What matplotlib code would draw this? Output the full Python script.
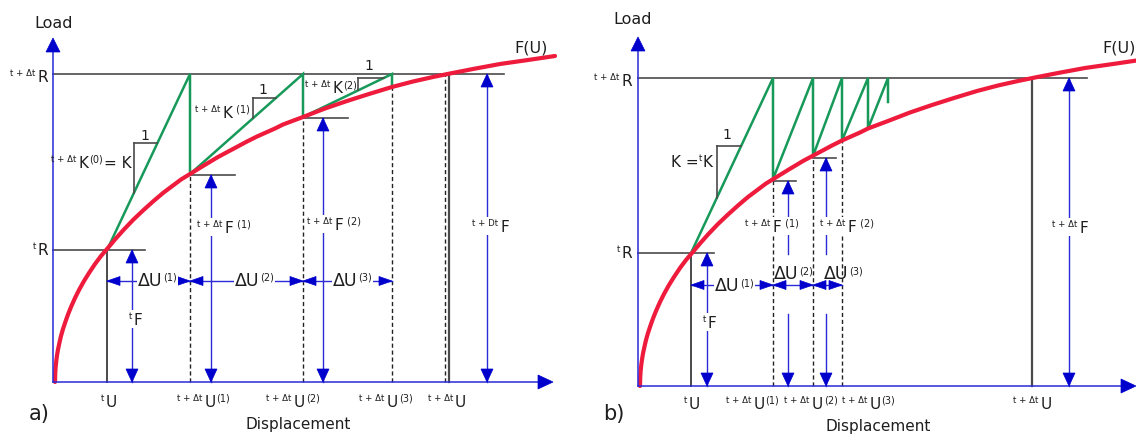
import matplotlib
matplotlib.use("Agg")
import matplotlib.pyplot as plt
from matplotlib.patches import Polygon, Rectangle

plt.rcParams['font.family'] = ['DejaVu Sans']

# ------------------------------------------------------------------ data
# load-displacement curve F(U) (diagram units)
curve_u = [2, 2.2, 2.6, 3.2, 4, 5, 6.5, 8, 10, 12.5, 15, 18, 22, 26, 31, 36, 42,
           48, 54, 62, 70, 80, 90, 100, 110, 120, 128, 137, 150, 165, 180, 194,
           204, 222, 230, 250, 272, 294, 316, 339, 360, 380, 397, 420, 447,
           475, 502]
curve_f = [0, 8, 14.5, 20.5, 26.5, 32.5, 39.5, 46, 53, 60.5, 67.5, 75, 84, 92,
           101, 109, 118, 126, 133, 142.5, 151.5, 162, 171.5, 180.5, 189, 196.5,
           202.5, 208, 216, 225, 233, 240.5, 245.5, 253.5, 257.5, 265, 273.5,
           281, 288, 295, 300.5, 305, 308.5, 313, 318, 322, 326]

# panel a) full Newton-Raphson iterations
a_tU, a_tR = 54, 132
a_R = 308
a_iter_u = [137, 250, 339]
a_iter_f = [208, 265, 295]
a_conv_u = 392
a_final_u = 396

# panel b) modified Newton-Raphson iterations
b_tU, b_tR = 53, 133
b_R = 308
b_iter_u = [135, 175, 204, 230, 250]
b_iter_f = [207, 230, 245.5, 257.5, 284]
b_final_u = 394

# text
iter_tags = ['(1)', '(2)', '(3)']
xlabel = 'Displacement'
ylabel = 'Load'
curve_name = 'F(U)'

# ------------------------------------------------------------------ style
RED = '#ee1b3c'
GREEN = '#17995a'
BLUE = '#2a2ad8'
HEAD = '#0000cc'
GREY = '#4a4a4a'
TXT = '#1e1e1e'
MAIN, PRE, POST = 11, 6.2, 7

W, H = 1136, 435
fig = plt.figure(figsize=(W / 100, H / 100), dpi=100)
renderer = fig.canvas.get_renderer()


def make_panel(ox, oy, name):
    ax = fig.add_axes([0, 0, 1, 1], label=name)
    ax.set_xlim(-ox, W - ox)
    ax.set_ylim(-(H - oy), oy)
    ax.set_axis_off()
    ax.patch.set_alpha(0)
    return ax


def head(ax, tip, d, L=13, hw=6, z=6):
    x, y = tip
    dx, dy = d
    bx, by = x - dx * L, y - dy * L
    px, py = -dy, dx
    pts = [(x, y), (bx + px * hw, by + py * hw), (bx - px * hw, by - py * hw)]
    ax.add_patch(Polygon(pts, closed=True, fc=HEAD, ec=HEAD, lw=0.5, zorder=z))


def draw_axes(ax, ytip, xtip):
    ax.plot([0, 0], [0, ytip - 10], color=BLUE, lw=1.1, zorder=5)
    head(ax, (0, ytip), (0, 1), L=14, hw=7)
    ax.plot([0, xtip - 10], [0, 0], color=BLUE, lw=1.1, zorder=5)
    head(ax, (xtip, 0), (1, 0), L=15, hw=7)


def varrow(ax, u, top, gaps=()):
    pieces = [[0, top]]
    for lo, hi in gaps:
        new = []
        for a, b in pieces:
            if hi <= a or lo >= b:
                new.append([a, b])
            else:
                if lo > a:
                    new.append([a, lo])
                if hi < b:
                    new.append([hi, b])
        pieces = new
    for a, b in pieces:
        ax.plot([u, u], [a, b], color=BLUE, lw=1.0, zorder=5)
    head(ax, (u, top), (0, 1), L=13, hw=6)
    head(ax, (u, 0), (0, -1), L=13, hw=6)


def harrow(ax, u0, u1, f):
    ax.plot([u0, u1], [f, f], color=BLUE, lw=1.0, zorder=5)
    head(ax, (u0, f), (-1, 0), L=13, hw=4.5)
    head(ax, (u1, f), (1, 0), L=13, hw=4.5)


def rich(ax, x, y, segs, ha='left', bg=False, z=8):
    objs = [ax.text(0, 0, s, fontsize=sz, ha='left', va='baseline', color=TXT,
                    zorder=z) for s, sz, r, g in segs]
    ws = [t.get_window_extent(renderer).width for t in objs]
    total = sum(ws) + sum(g for s, sz, r, g in segs)
    x0 = {'left': x, 'center': x - total / 2, 'right': x - total}[ha]
    cx = x0
    for t, w, (s, sz, r, g) in zip(objs, ws, segs):
        cx += g
        t.set_position((cx, y + r))
        cx += w
    if bg:
        bbs = [t.get_window_extent(renderer) for t in objs]
        inv = ax.transData.inverted()
        u0, f0 = inv.transform((min(b.x0 for b in bbs) - 1, min(b.y0 for b in bbs) - 1))
        u1, f1 = inv.transform((max(b.x1 for b in bbs) + 1, max(b.y1 for b in bbs) + 1))
        ax.add_patch(Rectangle((u0, f0), u1 - u0, f1 - f0, fc='white', ec='none',
                               zorder=z - 0.5))


def plain(ax, x, y, s, size, **kw):
    ax.text(x, y, s, fontsize=size, color=TXT, ha='center', va='center', zorder=8, **kw)


def slope_marker(ax, corner, p0, p1, label_pos):
    cu, cf = corner
    (u0, f0), (u1, f1) = p0, p1
    k = (f1 - f0) / (u1 - u0)
    uh = u0 + (cf - f0) / k
    fv = f0 + (cu - u0) * k
    ax.plot([cu, uh], [cf, cf], color=GREY, lw=1.2, zorder=3)
    ax.plot([cu, cu], [cf, fv], color=GREY, lw=1.2, zorder=3)
    plain(ax, label_pos[0], label_pos[1], '1', 10)


def dashed(ax, u, f):
    ax.plot([u, u], [0, f], color='#222222', lw=1.0, ls=(0, (3, 2)), zorder=2)


def pre(t):
    return (t, PRE, 6, 0)


def post(t):
    return (t, POST, 5, 1)


def main(t, g=2):
    return (t, MAIN, 0, g)


def du(t):
    return [('ΔU', 12.5, 0, 0), post(t)]


# ================================================================== panel a
ax = make_panel(53, 383, 'a')
draw_axes(ax, 344, 500)

ax.plot([0, 451], [a_R, a_R], color=GREY, lw=1.2, zorder=2)
ax.plot([0, 92], [a_tR, a_tR], color=GREY, lw=1.2, zorder=2)
ax.plot([a_tU, a_tU], [0, a_tR], color=GREY, lw=1.4, zorder=2)
ax.plot([a_final_u, a_final_u], [0, a_R], color=GREY, lw=1.6, zorder=2)
dashed(ax, a_conv_u, a_R)
for u, f in zip(a_iter_u, a_iter_f):
    dashed(ax, u, f)
    if u != a_iter_u[-1]:
        ax.plot([u, u + 45], [f - 1, f - 1], color=GREY, lw=1.2, zorder=2)

gu, gf = [a_tU], [a_tR]
for u, f in zip(a_iter_u, a_iter_f):
    gu += [u, u]
    gf += [a_R, f]
ax.plot(gu, gf, color=GREEN, lw=1.8, zorder=3, solid_joinstyle='miter')
ax.plot(curve_u, curve_f, color=RED, lw=3.0, zorder=4, solid_capstyle='round',
        solid_joinstyle='round')

slope_marker(ax, (81, 239), (a_tU, a_tR), (a_iter_u[0], a_R), (92, 247))
slope_marker(ax, (200, 284), (a_iter_u[0], a_iter_f[0]), (a_iter_u[1], a_R), (210, 293))
slope_marker(ax, (305, 304), (a_iter_u[1], a_iter_f[1]), (a_iter_u[2], a_R), (316, 317))

varrow(ax, 79, a_tR)
varrow(ax, 158, a_iter_f[0] - 1)
varrow(ax, 270, a_iter_f[1] - 1)
varrow(ax, 434, a_R)
harrow(ax, a_tU, a_iter_u[0], 101)
harrow(ax, a_iter_u[0], a_iter_u[1], 101)
harrow(ax, a_iter_u[1], a_iter_u[2], 101)

rich(ax, -5, 301, [pre('t + Δt'), main('R')], ha='right')
rich(ax, -5, 128, [pre('t'), main('R', 1)], ha='right')
rich(ax, 79, 215, [pre('t + Δt'), main('K'), post('(0)'), main('= K', 1)], ha='right')
rich(ax, 197, 265, [pre('t + Δt'), main('K'), post(' (1)')], ha='right')
rich(ax, 304, 290, [pre('t + Δt'), main('K'), post('(2)')], ha='right')
plain(ax, 478, 335, curve_name, 11.5)

rich(ax, 76, 58, [pre('t'), main('F', 1)], bg=True)
rich(ax, 144, 150, [pre('t + Δt'), main('F'), post(' (1)')], bg=True)
rich(ax, 254, 153, [pre('t + Δt'), main('F'), post(' (2)')], bg=True)
rich(ax, 419, 151, [pre('t + Dt'), main('F')], bg=True)
for left, tag in zip([85, 182, 280], iter_tags):
    rich(ax, left, 97, du(tag), bg=True)

tick_a = [56, 150.5, 240, 333, 394]
rich(ax, tick_a[0], -24, [pre('t'), main('U', 1)], ha='center')
for u, tag in zip(tick_a[1:4], iter_tags):
    rich(ax, u, -24, [pre('t + Δt'), main('U'), post(tag)], ha='center')
rich(ax, tick_a[4], -24, [pre('t + Δt'), main('U')], ha='center')

plain(ax, 1, 360, ylabel, 11.5)
plain(ax, 245, -42, xlabel, 11)
plain(ax, -14, -31, 'a)', 15)

# ================================================================== panel b
ax = make_panel(638, 387, 'b')
draw_axes(ax, 349, 498)

ax.plot([0, 449], [b_R, b_R], color=GREY, lw=1.2, zorder=2)
ax.plot([0, 76], [b_tR, b_tR], color=GREY, lw=1.2, zorder=2)
ax.plot([b_tU, b_tU], [0, b_tR], color=GREY, lw=1.4, zorder=2)
ax.plot([b_final_u, b_final_u], [0, b_R], color=GREY, lw=1.6, zorder=2)
for u, f in zip(b_iter_u[:3], b_iter_f[:3]):
    dashed(ax, u, f)
for u, f in zip(b_iter_u[:2], b_iter_f[:2]):
    ax.plot([u, u + 23], [f - 2, f - 2], color=GREY, lw=1.2, zorder=2)

gu, gf = [b_tU], [b_tR]
for u, f in zip(b_iter_u, b_iter_f):
    gu += [u, u]
    gf += [b_R, f]
ax.plot(gu, gf, color=GREEN, lw=1.8, zorder=3, solid_joinstyle='miter')
ax.plot(curve_u, curve_f, color=RED, lw=3.0, zorder=4, solid_capstyle='round',
        solid_joinstyle='round')

slope_marker(ax, (79, 240), (b_tU, b_tR), (b_iter_u[0], b_R), (89, 252))

varrow(ax, 69, b_tR)
varrow(ax, 150, b_iter_f[0] - 2, gaps=[(72, 132)])
varrow(ax, 188, b_iter_f[1] - 2, gaps=[(72, 132)])
varrow(ax, 431, b_R)
harrow(ax, b_tU, b_iter_u[0], 101)
harrow(ax, b_iter_u[0], b_iter_u[1], 101)
harrow(ax, b_iter_u[1], b_iter_u[2], 101)

rich(ax, -6, 301, [pre('t + Δt'), main('R')], ha='right')
rich(ax, -6, 129, [pre('t'), main('R', 1)], ha='right')
rich(ax, 75, 220, [main('K =', 0), pre('t'), main('K', 1)], ha='right')
plain(ax, 481, 339, curve_name, 11.5)

rich(ax, 65, 59, [pre('t'), main('F', 1)], bg=True)
rich(ax, 107, 155, [pre('t + Δt'), main('F'), post(' (1)')], bg=True)
rich(ax, 182, 155, [pre('t + Δt'), main('F'), post(' (2)')], bg=True)
rich(ax, 414, 154, [pre('t + Δt'), main('F')], bg=True)
rich(ax, 77, 96, du(iter_tags[0]), bg=True)
rich(ax, 136, 108, du(iter_tags[1]))
rich(ax, 186, 108, du(iter_tags[2]))

tick_b = [54, 114.5, 173, 230.5, 394.5]
rich(ax, tick_b[0], -22, [pre('t'), main('U', 1)], ha='center')
for u, tag in zip(tick_b[1:4], iter_tags):
    rich(ax, u, -22, [pre('t + Δt'), main('U'), post(tag)], ha='center')
rich(ax, tick_b[4], -22, [pre('t + Δt'), main('U')], ha='center')

plain(ax, -5, 368, ylabel, 11.5)
plain(ax, 240, -40, xlabel, 11)
plain(ax, -24, -27, 'b)', 15)

fig.savefig('out.png', dpi=100)
